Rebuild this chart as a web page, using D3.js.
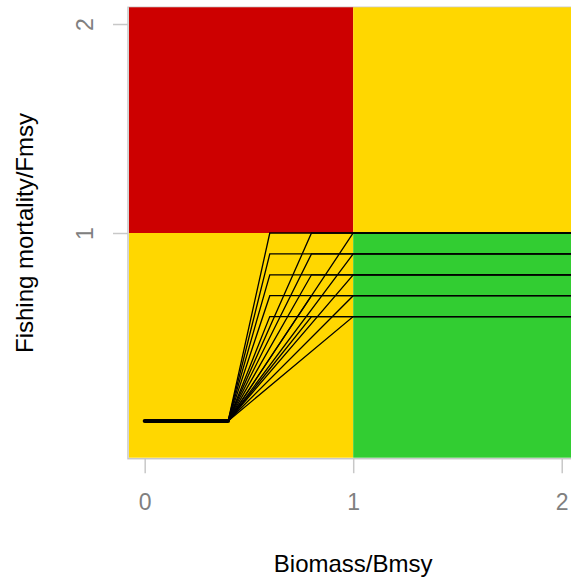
<!DOCTYPE html>
<html>
<head>
<meta charset="utf-8">
<script src="https://cdn.jsdelivr.net/npm/d3@7"></script>
<style>
  body { margin: 0; background: #fff; }
  svg { display: block; font-family: "Liberation Sans", Arial, sans-serif; }
</style>
</head>
<body>
<svg></svg>
<script>
document.addEventListener("DOMContentLoaded", function() {

    // harvest control rule settings
    var fTargets = [1.0, 0.9, 0.8, 0.7, 0.6];   // F/Fmsy plateau levels
    var bTriggers = [0.6, 0.8, 1.0];           // B/Bmsy where the plateau starts
    var bLim = 0.4;                            // B/Bmsy below which F is fixed low
    var fLow = 0.1;                            // low F/Fmsy
    var xTicks = [0, 1, 2];
    var yTicks = [1, 2];
    var zones = [
        { x0: -0.08, x1: 1, y0: 1, y1: 2.08, color: "#CD0000" },
        { x0: 1, x1: 2.08, y0: 1, y1: 2.08, color: "#FFD700" },
        { x0: -0.08, x1: 1, y0: -0.08, y1: 1, color: "#FFD700" },
        { x0: 1, x1: 2.08, y0: -0.08, y1: 1, color: "#32CD32" }
    ];

    var width = 571, height = 582;
    var svg = d3.select("svg")
                .attr("width", width)
                .attr("height", height);

    var x = d3.scaleLinear().domain([-0.08, 2.08]).range([128, 578.4]);
    var y = d3.scaleLinear().domain([-0.08, 2.08]).range([458.7, 7.3]);

    // frame
    svg.append("rect")
        .attr("x", x(-0.08))
        .attr("y", y(2.08))
        .attr("width", x(2.08) - x(-0.08))
        .attr("height", y(-0.08) - y(2.08))
        .attr("fill", "none")
        .attr("stroke", "#c8c8c8")
        .attr("stroke-width", 1.5);

    // coloured zones
    svg.append("g").selectAll("rect")
        .data(zones)
        .enter()
        .append("rect")
        .attr("x", d => x(d.x0) + (d.x0 < 0 ? 1 : 0))
        .attr("y", d => y(d.y1))
        .attr("width", d => x(d.x1) - x(d.x0) - (d.x0 < 0 ? 1 : 0))
        .attr("height", d => y(d.y0) - y(d.y1) - (d.y0 < 0 ? 1 : 0))
        .attr("fill", d => d.color);

    // the rules
    var rules = [];
    fTargets.forEach(function(f) {
        bTriggers.forEach(function(b) {
            rules.push([[bLim, fLow], [b, f], [2.08, f]]);
        });
    });

    var line = d3.line().x(d => x(d[0])).y(d => y(d[1]));

    svg.append("g").selectAll("path")
        .data(rules)
        .enter()
        .append("path")
        .attr("d", line)
        .attr("fill", "none")
        .attr("stroke", "#000")
        .attr("stroke-width", 1.3);

    svg.append("path")
        .attr("d", line([[0, fLow], [bLim, fLow]]))
        .attr("stroke", "#000")
        .attr("stroke-width", 4)
        .attr("stroke-linecap", "round");

    // axes
    var xAxis = svg.append("g")
        .attr("transform", `translate(0,${y(-0.08) - 0.5})`)
        .call(d3.axisBottom(x).tickValues(xTicks).tickSize(15).tickPadding(20).tickFormat(d3.format("d")));

    var yAxis = svg.append("g")
        .attr("transform", `translate(${x(-0.08)},0)`)
        .call(d3.axisLeft(y).tickValues(yTicks).tickSize(15).tickFormat(d3.format("d")));

    [xAxis, yAxis].forEach(function(g) {
        g.select(".domain").remove();
        g.selectAll(".tick line").attr("stroke", "#c8c8c8").attr("stroke-width", 1.5);
        g.selectAll(".tick text")
            .attr("fill", "#808080")
            .style("font-size", "23px")
            .style("font-family", '"Liberation Sans", Arial, sans-serif');
    });

    // rotated y tick labels, as R draws them
    yAxis.selectAll(".tick text")
        .attr("x", null)
        .attr("dy", null)
        .attr("text-anchor", "middle")
        .attr("transform", "translate(-35,0) rotate(-90)");

    // titles
    svg.append("text")
        .attr("x", x(1))
        .attr("y", 572)
        .attr("text-anchor", "middle")
        .style("font-size", "24px")
        .text("Biomass/Bmsy");

    svg.append("text")
        .attr("transform", `translate(33,${y(1)}) rotate(-90)`)
        .attr("text-anchor", "middle")
        .style("font-size", "24px")
        .text("Fishing mortality/Fmsy");
});
</script>
</body>
</html>
